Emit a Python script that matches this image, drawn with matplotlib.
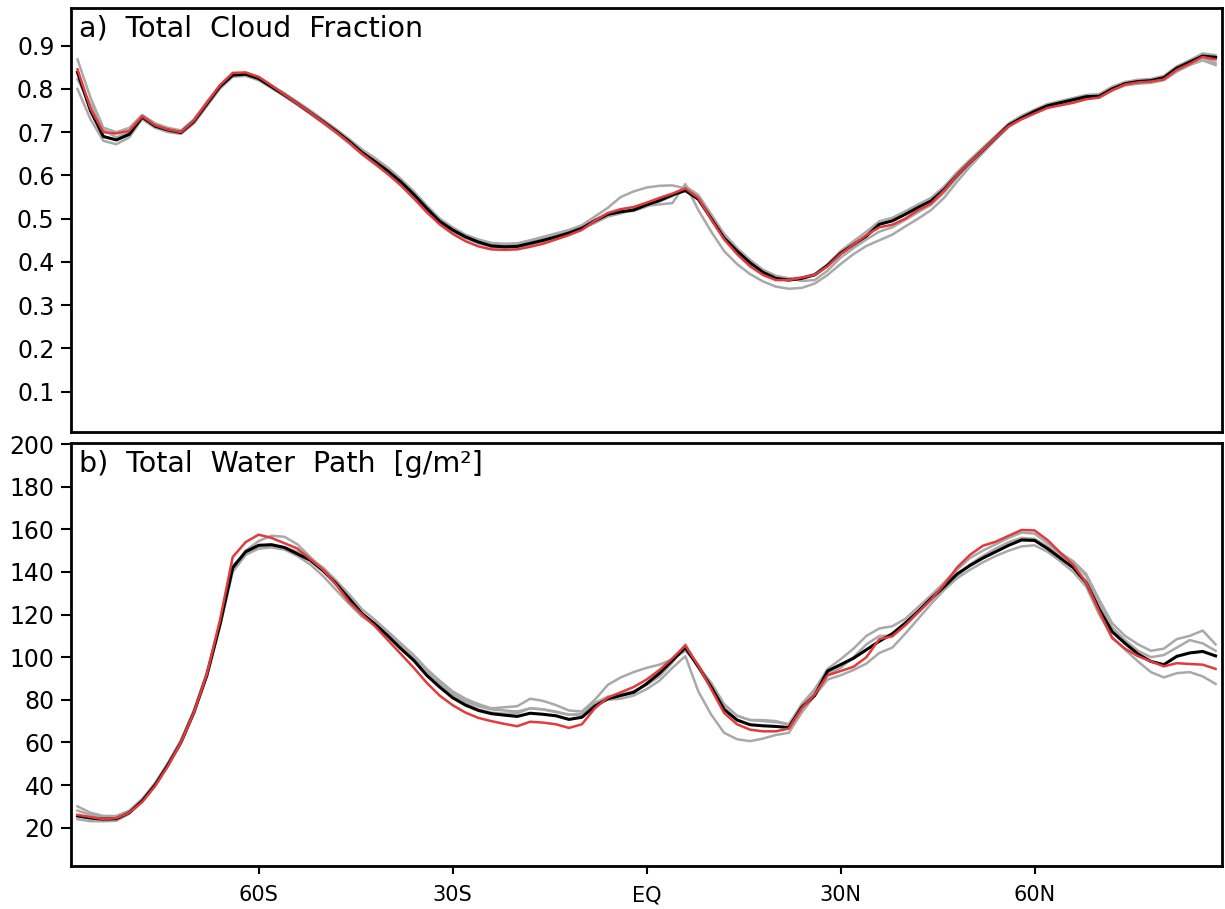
import numpy as np
import matplotlib.pyplot as plt

# latitude grid (2 degree)
lat = [-88, -86, -84, -82, -80, -78, -76, -74, -72, -70,
       -68, -66, -64, -62, -60, -58, -56, -54, -52, -50,
       -48, -46, -44, -42, -40, -38, -36, -34, -32, -30,
       -28, -26, -24, -22, -20, -18, -16, -14, -12, -10,
       -8, -6, -4, -2, 0, 2, 4, 6, 8, 10,
       12, 14, 16, 18, 20, 22, 24, 26, 28, 30,
       32, 34, 36, 38, 40, 42, 44, 46, 48, 50,
       52, 54, 56, 58, 60, 62, 64, 66, 68, 70,
       72, 74, 76, 78, 80, 82, 84, 86, 88]

# a) total cloud fraction
tcf_black = [0.838, 0.750, 0.690, 0.682, 0.695, 0.735, 0.714, 0.705, 0.699, 0.725,
             0.765, 0.805, 0.832, 0.834, 0.824, 0.805, 0.786, 0.766, 0.745, 0.724,
             0.702, 0.679, 0.653, 0.632, 0.610, 0.585, 0.556, 0.524, 0.494, 0.474,
             0.458, 0.446, 0.437, 0.435, 0.436, 0.443, 0.450, 0.458, 0.467, 0.478,
             0.495, 0.510, 0.516, 0.520, 0.532, 0.542, 0.555, 0.565, 0.545, 0.500,
             0.455, 0.425, 0.398, 0.376, 0.362, 0.358, 0.362, 0.370, 0.392, 0.420,
             0.440, 0.460, 0.487, 0.495, 0.510, 0.526, 0.541, 0.567, 0.600, 0.630,
             0.658, 0.687, 0.716, 0.733, 0.748, 0.761, 0.768, 0.775, 0.782, 0.783,
             0.800, 0.812, 0.817, 0.819, 0.826, 0.848, 0.862, 0.876, 0.873]
tcf_red = [0.845, 0.755, 0.700, 0.697, 0.703, 0.737, 0.716, 0.706, 0.700, 0.727,
           0.768, 0.808, 0.837, 0.838, 0.828, 0.808, 0.787, 0.766, 0.745, 0.723,
           0.700, 0.676, 0.650, 0.627, 0.603, 0.577, 0.547, 0.515, 0.487, 0.465,
           0.448, 0.436, 0.429, 0.428, 0.429, 0.435, 0.442, 0.452, 0.462, 0.474,
           0.495, 0.513, 0.522, 0.527, 0.537, 0.548, 0.558, 0.570, 0.548, 0.498,
           0.452, 0.418, 0.390, 0.370, 0.358, 0.358, 0.364, 0.370, 0.390, 0.418,
           0.440, 0.462, 0.480, 0.486, 0.500, 0.520, 0.535, 0.565, 0.600, 0.630,
           0.658, 0.687, 0.714, 0.730, 0.743, 0.756, 0.762, 0.768, 0.776, 0.780,
           0.797, 0.810, 0.815, 0.817, 0.822, 0.844, 0.858, 0.874, 0.868]
tcf_m1 = [0.868, 0.780, 0.710, 0.700, 0.710, 0.740, 0.720, 0.710, 0.704, 0.730,
          0.770, 0.808, 0.835, 0.837, 0.827, 0.808, 0.790, 0.770, 0.750, 0.728,
          0.706, 0.684, 0.660, 0.640, 0.618, 0.592, 0.563, 0.530, 0.500, 0.480,
          0.463, 0.452, 0.444, 0.442, 0.443, 0.450, 0.458, 0.466, 0.474, 0.485,
          0.505, 0.525, 0.550, 0.563, 0.572, 0.576, 0.577, 0.570, 0.552, 0.505,
          0.460, 0.430, 0.405, 0.382, 0.368, 0.362, 0.364, 0.372, 0.395, 0.425,
          0.448, 0.470, 0.494, 0.502, 0.517, 0.533, 0.548, 0.574, 0.607, 0.636,
          0.664, 0.692, 0.720, 0.738, 0.752, 0.765, 0.772, 0.779, 0.786, 0.788,
          0.805, 0.816, 0.821, 0.823, 0.830, 0.852, 0.866, 0.882, 0.878]
tcf_m2 = [0.800, 0.730, 0.680, 0.672, 0.688, 0.730, 0.710, 0.700, 0.696, 0.720,
          0.760, 0.800, 0.828, 0.830, 0.820, 0.802, 0.783, 0.763, 0.742, 0.720,
          0.698, 0.674, 0.648, 0.626, 0.604, 0.580, 0.552, 0.520, 0.490, 0.470,
          0.455, 0.443, 0.435, 0.433, 0.434, 0.440, 0.447, 0.455, 0.464, 0.476,
          0.490, 0.505, 0.512, 0.522, 0.530, 0.533, 0.536, 0.580, 0.520, 0.470,
          0.425, 0.395, 0.372, 0.355, 0.343, 0.338, 0.340, 0.350, 0.370, 0.395,
          0.418, 0.437, 0.450, 0.463, 0.482, 0.500, 0.520, 0.548, 0.585, 0.620,
          0.652, 0.683, 0.712, 0.730, 0.745, 0.758, 0.765, 0.772, 0.778, 0.780,
          0.796, 0.808, 0.812, 0.814, 0.820, 0.840, 0.855, 0.866, 0.855]
tcf_m3 = [0.822, 0.765, 0.705, 0.688, 0.700, 0.738, 0.720, 0.708, 0.702, 0.728,
          0.768, 0.806, 0.830, 0.832, 0.822, 0.806, 0.789, 0.769, 0.749, 0.728,
          0.707, 0.683, 0.657, 0.636, 0.614, 0.590, 0.562, 0.530, 0.500, 0.478,
          0.462, 0.450, 0.442, 0.440, 0.442, 0.449, 0.456, 0.464, 0.472, 0.482,
          0.498, 0.512, 0.515, 0.518, 0.528, 0.540, 0.552, 0.575, 0.555, 0.510,
          0.465, 0.432, 0.404, 0.380, 0.366, 0.362, 0.356, 0.358, 0.380, 0.410,
          0.432, 0.452, 0.470, 0.480, 0.497, 0.515, 0.532, 0.560, 0.595, 0.628,
          0.656, 0.686, 0.715, 0.732, 0.746, 0.758, 0.766, 0.773, 0.780, 0.782,
          0.802, 0.814, 0.819, 0.818, 0.824, 0.850, 0.866, 0.872, 0.860]

# b) total water path [g/m2]
twp_black = [25.5, 24.5, 24.0, 24.2, 27.0, 32.5, 40.0, 49.5, 60.0, 74.0,
             91.5, 115.0, 142.0, 149.5, 152.5, 152.8, 151.5, 148.5, 145.5, 140.5,
             134.5, 127.5, 120.5, 115.5, 110.0, 104.0, 98.5, 91.5, 86.0, 81.0,
             77.5, 75.0, 73.5, 72.8, 72.2, 73.7, 73.2, 72.5, 70.8, 71.8,
             77.0, 80.5, 82.0, 83.5, 87.5, 92.5, 98.5, 104.5, 95.5, 86.0,
             75.5, 70.5, 68.3, 67.8, 67.5, 67.0, 76.5, 82.0, 93.5, 96.5,
             99.5, 103.5, 107.5, 111.0, 116.0, 121.5, 127.5, 133.0, 139.0, 143.0,
             146.5, 149.5, 152.5, 155.0, 154.8, 151.0, 146.5, 142.0, 135.0, 122.5,
             112.0, 106.5, 101.5, 98.0, 96.5, 100.4, 102.0, 102.7, 100.6]
twp_red = [26.0, 25.0, 24.0, 24.5, 27.0, 32.0, 39.5, 49.0, 60.0, 74.0,
           92.0, 117.0, 147.0, 154.0, 157.5, 156.0, 153.5, 151.0, 146.0, 141.0,
           134.0, 126.0, 120.0, 114.5, 108.0, 101.5, 95.0, 88.0, 82.0, 77.5,
           74.0, 71.5, 70.0, 68.7, 67.6, 69.7, 69.3, 68.5, 66.8, 68.5,
           76.0, 81.0, 83.5, 86.0, 89.5, 94.0, 99.5, 105.5, 96.0, 85.0,
           73.8, 68.5, 66.0, 65.2, 65.2, 66.5, 76.0, 82.5, 91.5, 93.5,
           95.5, 100.0, 108.5, 109.8, 115.0, 121.0, 127.0, 134.0, 142.0, 148.0,
           152.3, 154.2, 157.0, 159.7, 159.5, 155.0, 149.0, 143.3, 135.0, 121.5,
           109.0, 104.0, 100.5, 98.0, 95.7, 97.2, 96.8, 96.5, 94.5]
twp_m1 = [30.0, 27.0, 25.5, 25.5, 28.0, 33.5, 41.0, 50.5, 61.0, 75.0,
          92.0, 115.0, 141.0, 150.0, 154.5, 157.0, 156.5, 153.0, 147.0, 141.0,
          134.0, 126.0, 119.5, 116.0, 112.0, 106.5, 101.0, 94.5, 89.0, 84.0,
          80.5, 78.0, 76.0, 76.5, 77.0, 80.5, 79.5, 77.5, 75.0, 74.5,
          80.0, 87.0, 90.5, 93.0, 95.0, 96.5, 99.0, 103.0, 96.5, 87.0,
          77.5, 72.5, 70.5, 70.0, 69.5, 68.5, 78.0, 85.0, 94.5, 99.0,
          104.0, 110.0, 113.5, 114.5, 118.0, 123.5, 129.0, 135.0, 141.0, 146.5,
          150.0, 153.0, 156.0, 158.5, 158.0, 153.5, 149.0, 145.0, 139.0, 127.0,
          116.0, 110.0, 106.0, 103.0, 104.0, 108.5, 110.0, 112.5, 106.0]
twp_m2 = [24.0, 23.0, 23.0, 23.2, 26.5, 32.8, 40.5, 50.0, 61.0, 75.0,
          93.0, 116.0, 143.0, 149.0, 151.0, 151.5, 150.5, 147.5, 143.5, 138.0,
          131.5, 125.0, 119.0, 115.0, 110.5, 105.0, 100.0, 93.0, 87.5, 82.5,
          78.5, 75.5, 74.0, 73.5, 73.7, 76.0, 75.5, 74.2, 73.0, 73.0,
          78.0, 80.0, 80.5, 82.0, 85.0, 89.0, 95.0, 100.5, 84.0, 73.0,
          64.5, 61.5, 60.6, 61.8, 63.5, 64.5, 74.0, 82.0, 89.5, 91.5,
          94.0, 97.0, 102.0, 104.5, 111.0, 118.0, 125.0, 131.5, 137.0, 141.0,
          144.5, 147.5, 150.0, 152.0, 152.5, 149.5, 145.0, 140.0, 133.0, 120.0,
          109.5, 103.5, 98.0, 93.0, 90.5, 92.5, 93.0, 91.0, 87.5]
twp_m3 = [28.0, 26.0, 25.0, 24.5, 27.5, 33.0, 40.5, 50.0, 60.5, 74.5,
          91.0, 114.0, 140.0, 148.0, 151.0, 152.0, 151.5, 149.5, 146.5, 142.0,
          136.0, 129.5, 122.5, 117.5, 112.0, 106.0, 100.5, 93.5, 88.0, 83.0,
          79.5, 77.0, 75.5, 75.0, 74.5, 76.0, 75.5, 74.5, 73.0, 73.5,
          78.5, 81.5, 82.5, 84.0, 87.0, 91.0, 97.5, 106.0, 95.5, 88.0,
          78.0, 72.5, 70.5, 70.5, 70.0, 68.5, 77.0, 84.0, 92.0, 95.0,
          100.0, 106.0, 110.0, 110.0, 115.0, 121.0, 127.0, 132.5, 138.0, 143.5,
          147.5, 151.0, 154.0, 156.0, 155.5, 152.0, 148.0, 144.5, 138.0, 125.0,
          114.0, 108.0, 103.0, 100.0, 101.0, 104.5, 108.0, 106.5, 103.0]

xtick_pos = [-60, -30, 0, 30, 60]
xtick_labels = ['60S', '30S', 'EQ', '30N', '60N']
tcf_ticks = [0.1, 0.2, 0.3, 0.4, 0.5, 0.6, 0.7, 0.8, 0.9]
twp_ticks = [20, 40, 60, 80, 100, 120, 140, 160, 180, 200]

fig = plt.figure(figsize=(12.25, 9.09), dpi=100)
ax1 = fig.add_axes([0.058, 0.5248, 0.9396, 0.4664])
ax2 = fig.add_axes([0.058, 0.0473, 0.9396, 0.4653])

panels = [
    (ax1, [tcf_m1, tcf_m2, tcf_m3], tcf_black, tcf_red, 'a)  Total  Cloud  Fraction', (0.007, 0.987), tcf_ticks),
    (ax2, [twp_m1, twp_m2, twp_m3], twp_black, twp_red, 'b)  Total  Water  Path  [g/m²]', (2, 200.5), twp_ticks),
]

for ax, members, obs, model, title, ylim, yticks in panels:
    for m in members:
        ax.plot(lat, m, color='#a9a9a9', lw=1.8, zorder=1)
    ax.plot(lat, obs, color='black', lw=2.2, zorder=2)
    ax.plot(lat, model, color='#e33b3b', lw=1.8, zorder=3)
    ax.set_xlim(-89, 89)
    ax.set_ylim(*ylim)
    ax.set_yticks(yticks)
    ax.tick_params(axis='y', direction='out', length=7, width=1.5, labelsize=17, pad=5)
    for s in ax.spines.values():
        s.set_linewidth(2)
    ax.annotate(title, xy=(0, 1), xycoords='axes fraction', xytext=(6, -5),
                textcoords='offset points', ha='left', va='top', fontsize=20.5)

ax1.set_xticks([])
ax2.set_xticks(xtick_pos)
ax2.set_xticklabels(xtick_labels, family=['Liberation Sans Narrow', 'DejaVu Sans'], fontsize=15)
ax2.tick_params(axis='x', direction='out', length=6, width=1.5, pad=8)

fig.savefig('out.png', dpi=100)
